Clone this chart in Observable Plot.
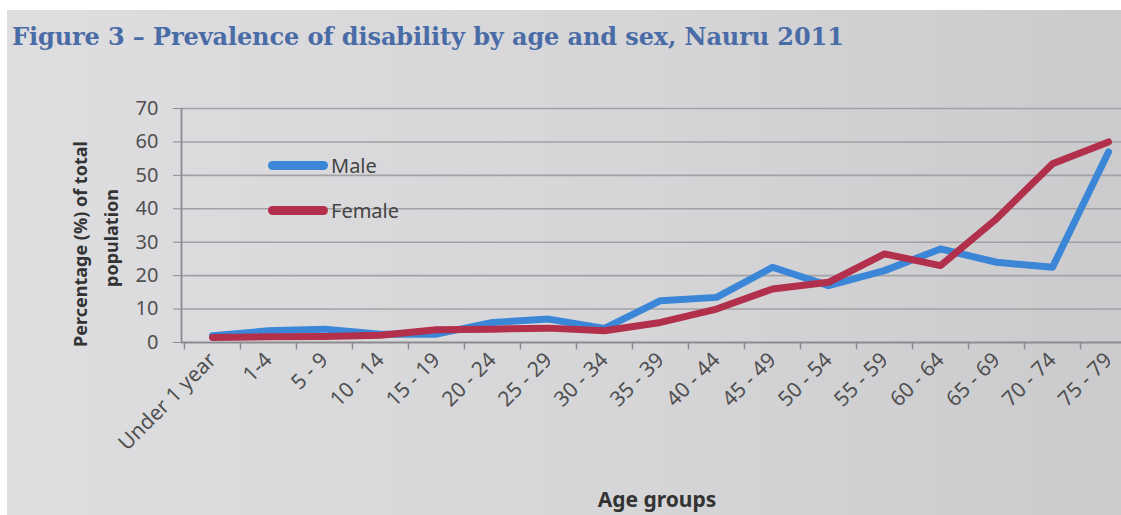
<!DOCTYPE html>
<html><head><meta charset="utf-8">
<script src="https://cdn.jsdelivr.net/npm/d3@7"></script>
<script src="https://cdn.jsdelivr.net/npm/@observablehq/plot@0.6"></script>
<style>
body{margin:0;background:#fff;}
#wrap{position:relative;width:1121px;height:515px;overflow:hidden;background:#fff;}
#bg{position:absolute;left:7px;top:10px;right:0;bottom:0;background:linear-gradient(90deg,#dedee1,#d6d6d9 55%,#cbcbce);}
#title{position:absolute;left:12px;top:22px;font:bold 24px "DejaVu Serif";color:#4a6ca6;white-space:nowrap;letter-spacing:-0.1px;}
#chart{position:absolute;left:0;top:60px;}
.ytitle{position:absolute;font:bold 18px "Noto Sans";color:#333;white-space:nowrap;transform:translate(-50%,-50%) rotate(-90deg);}
#xtitle{position:absolute;left:657px;top:499px;transform:translate(-50%,-50%);font:bold 21px "Noto Sans";color:#333;}
.leg{position:absolute;display:flex;align-items:center;font:20px "Noto Sans";color:#444;}
.leg span.sw{display:inline-block;width:60px;height:9px;border-radius:5px;margin-right:3px;}
</style></head>
<body>
<div id="wrap">
  <div id="bg"></div>
  <div id="title">Figure 3 – Prevalence of disability by age and sex, Nauru 2011</div>
  <div id="chart"></div>
  <div class="ytitle" style="left:80px;top:244px;">Percentage (%) of total</div>
  <div class="ytitle" style="left:111px;top:238px;">population</div>
  <div id="xtitle">Age groups</div>
  <div class="leg" style="left:268px;top:152px;"><span class="sw" style="background:#3b86d6"></span>Male</div>
  <div class="leg" style="left:268px;top:197px;"><span class="sw" style="background:#b3304c"></span>Female</div>
</div>
<script>
const ageGroups = ["Under 1 year","1-4","5 - 9","10 - 14","15 - 19","20 - 24","25 - 29","30 - 34","35 - 39","40 - 44","45 - 49","50 - 54","55 - 59","60 - 64","65 - 69","70 - 74","75 - 79"];
const male   = [2, 3.5, 4, 2.5, 2.5, 6, 7, 4.2, 12.5, 13.5, 22.5, 17, 21.5, 28, 24, 22.5, 57];
const female = [1.5, 1.7, 1.8, 2.2, 3.8, 4, 4.3, 3.5, 6, 10, 16, 18, 26.5, 23, 37, 53.5, 60];
const yTicks = [0, 10, 20, 30, 40, 50, 60, 70];
const seriesNames = ["Male", "Female"];
const seriesColors = ["#3b86d6", "#b3304c"];

const rows = [];
ageGroups.forEach((g, i) => {
  rows.push({age: g, sex: "Male", value: male[i]});
  rows.push({age: g, sex: "Female", value: female[i]});
});

const plot = Plot.plot({
  width: 1121, height: 455,
  marginLeft: 181, marginRight: 0, marginTop: 48, marginBottom: 173,
  style: {background: "transparent", fontFamily: "Noto Sans", color: "#4a4a4a", overflow: "visible"},
  x: {type: "point", domain: ageGroups, range: [212, 1108], padding: 0, label: null},
  y: {domain: [0, 70], label: null},
  color: {domain: seriesNames, range: seriesColors},
  marks: [
    Plot.ruleY(yTicks.filter(d => d > 0), {stroke: "#a2a2a6", strokeWidth: 1.6}),
    Plot.ruleY([0], {stroke: "#8c8c90", strokeWidth: 1.8}),
    Plot.ruleX([ageGroups[0]], {dx: -31, y1: 0, y2: 70, stroke: "#8c8c90", strokeWidth: 1.8}),
    Plot.ruleX(ageGroups, {x: d => d, dx: -28, y1: 0, y2: -2.2, stroke: "#8c8c90", strokeWidth: 1.5}),
    Plot.axisY({ticks: yTicks, tickSize: 8, tickPadding: 15, stroke: "#8c8c90", fill: "#505050", fontSize: 20, label: null}),
    Plot.axisX({tickSize: 0, tickRotate: -45, tickPadding: 14, dx: 0, fill: "#505050", fontSize: 21, label: null}),
    Plot.line(rows, {x: "age", y: "value", z: "sex", stroke: "sex", strokeWidth: 7, strokeLinejoin: "round", strokeLinecap: "round", sort: d => d.sex === "Male" ? 0 : 1})
  ]
});
document.getElementById("chart").appendChild(plot);
</script>
</body></html>
